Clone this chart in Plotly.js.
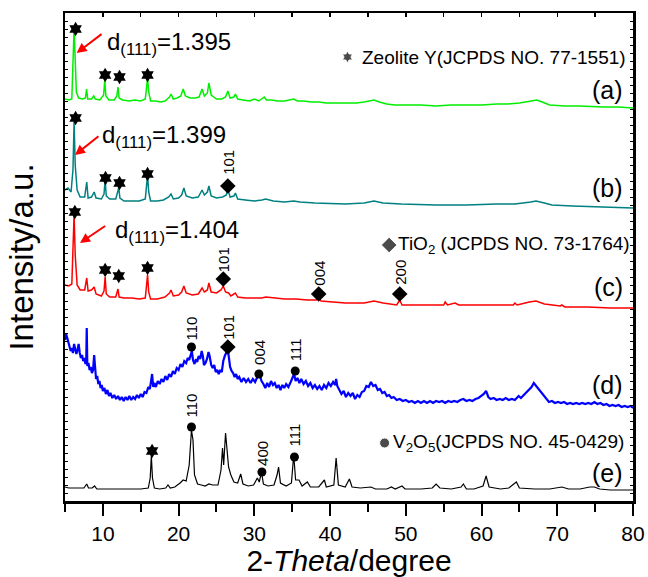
<!DOCTYPE html>
<html><head><meta charset="utf-8">
<script src="https://cdn.plot.ly/plotly-3.0.1.min.js"></script>
<style>html,body{margin:0;padding:0;background:#fff}#chart{width:648px;height:577px}</style>
</head><body><div id="chart"></div>
<script>
// (a) Zeolite Y – green
const aX=[5.0,5.5,5.9,6.1,6.2,6.3,6.5,6.8,7.3,7.7,7.85,8.0,8.5,8.8,9.0,9.6,10.1,10.25,10.4,10.8,11.5,11.85,12.0,12.15,12.6,13.5,14.2,15.0,15.6,15.8,15.9,16.05,16.3,17.0,17.6,18.2,18.8,19.0,19.3,19.8,20.3,20.6,20.9,21.5,22.2,22.7,23.1,23.4,23.8,24.0,24.3,25.0,25.7,26.2,26.5,26.8,27.3,27.5,27.8,28.5,29.4,30.0,30.6,31.3,31.6,32.3,33,34.0,34.8,35.2,35.7,36.5,37.5,38.5,39.5,40.5,41.5,42.5,43.5,44.5,45.3,45.8,46.5,47.5,48.5,50,52,54,56,58,60,62,63.5,65,66.5,67.3,68,69,71,73,76,78,80];
const aY=[402,401,402,441,473,451,409,403,402,403,412,402,402,405,402,401,406,421,405,401,401,405,414,403,401,400,401,400,402,416,423,409,400,400,399,400,404,407,402,403,405,412,405,403,403,404,412,405,408,418,406,402,402,404,410,403,404,407,402,401,400,402,400,404,401,401,400,400,401,402,400,400,399,399,398,398,398,398,398,399,400,401,399,397,396,396,396,395,396,396,396,397,397,398,400,401,399,396,395,395,394,394,393];
// (b) teal
const bX=[5.0,5.4,5.8,6.05,6.2,6.35,6.6,7.0,7.6,7.87,8.05,8.5,8.85,9.1,9.8,10.15,10.3,10.45,10.9,11.7,11.95,12.1,12.25,12.8,13.8,14.8,15.6,15.8,15.9,16.05,16.3,17.2,18.0,18.7,19.0,19.3,20.0,20.4,20.7,21.0,21.8,22.6,23.1,23.4,23.8,24.0,24.3,25.0,25.8,26.3,26.5,26.8,27.3,27.5,27.8,28.8,30.0,31.0,31.5,32.5,34,35.2,36,38,40.5,42,44.5,45.8,47,49.4,54,58,62,64.4,66.5,67.2,68.3,69.3,72,76,80];
const bY=[311,313,309,331,379,336,311,304,304,319,303,304,309,303,302,307,321,305,302,302,309,313,303,300,300,300,302,316,326,309,300,300,301,304,307,302,303,306,313,305,303,304,311,306,309,315,305,303,304,306,312,304,305,308,302,301,300,301,302,300,299,300,299,298,297,297,298,300,298,297,296,296,297,297,299,300,298,296,295,294,293];
// (c) red
const cX=[5.0,5.5,5.9,6.05,6.2,6.35,6.6,7.0,7.6,7.87,8.05,8.5,8.85,9.1,9.8,10.15,10.3,10.45,10.9,11.7,11.9,12.0,12.15,12.8,13.8,14.8,15.6,15.8,15.9,16.05,16.3,17.2,18.2,18.8,19.0,19.3,20.0,20.4,20.7,21.0,21.8,22.6,23.1,23.4,23.8,24.0,24.3,25.0,25.6,25.9,26.2,26.6,26.9,27.5,27.8,28.8,30.0,31.0,31.5,32.5,34,35.5,37,38.2,38.5,38.8,40,42,43.5,44.5,45.8,47,48.8,49.2,49.5,52,55.0,55.2,55.5,56.5,57,60,64.2,64.4,64.7,66.3,67.2,68.3,70.4,70.6,71,74,77,80];
const cY=[216,215,217,251,286,246,216,211,211,223,210,211,214,207,205,210,224,207,204,204,208,212,204,203,203,202,203,216,226,209,202,202,204,208,211,205,206,209,215,208,206,207,213,209,211,218,209,208,211,215,209,208,205,208,204,203,203,203,204,203,202,202,201,201,204,200,199,198,198,198,200,198,196,201,196,196,196,199,196,198,196,196,196,198,196,199,200,197,195,196,194,194,193,193];
// (d) blue
const dX=[5.0,5.15,5.3,5.45,5.6,5.75,5.9,6.05,6.2,6.35,6.5,6.65,6.8,6.95,7.1,7.25,7.4,7.55,7.7,7.8,7.87,7.95,8.1,8.25,8.4,8.55,8.7,8.85,8.95,9.1,9.25,9.4,9.55,9.7,9.85,10.0,10.2,10.4,10.6,10.8,11.0,11.25,11.5,11.75,12.0,12.25,12.5,12.75,13.0,13.25,13.5,13.75,14.0,14.25,14.5,14.75,15.0,15.25,15.5,15.75,16.0,16.2,16.35,16.5,16.65,16.8,17.0,17.25,17.5,17.75,18.0,18.25,18.5,18.75,19.0,19.25,19.5,19.75,20.0,20.25,20.5,20.75,21.0,21.2,21.4,21.6,21.75,21.9,22.1,22.3,22.45,22.65,22.85,23.05,23.2,23.35,23.55,23.75,23.95,24.1,24.3,24.5,24.7,24.9,25.1,25.3,25.5,25.7,25.9,26.1,26.3,26.5,26.65,26.8,27.0,27.2,27.4,27.6,27.8,28.0,28.3,28.6,28.9,29.2,29.5,29.8,30.1,30.4,30.7,30.95,31.2,31.45,31.7,31.95,32.2,32.45,32.7,32.95,33.2,33.45,33.7,33.95,34.2,34.5,34.8,35.05,35.25,35.45,35.7,35.95,36.2,36.5,36.8,37.1,37.4,37.7,38.0,38.3,38.6,38.9,39.2,39.5,39.8,40.1,40.4,40.65,40.8,40.95,41.2,41.5,41.8,42.1,42.4,42.7,43.0,43.3,43.6,43.9,44.2,44.5,44.8,45.1,45.4,45.7,46.0,46.3,46.6,46.9,47.2,47.5,47.8,48.1,48.4,48.8,49.2,49.6,50.0,50.4,50.8,51.2,51.6,52.0,52.4,52.8,53.2,53.6,54.0,54.4,54.8,55.2,55.6,56.0,56.4,56.8,57.2,57.6,58.0,58.4,58.8,59.2,59.6,60.0,60.3,60.6,60.9,61.2,61.6,62.0,62.4,62.8,63.2,63.6,64.0,64.4,64.9,65.2,65.6,66.0,66.3,66.6,66.9,67.1,67.4,67.7,68.0,68.3,68.6,68.9,69.3,69.7,70.1,70.5,70.9,71.3,71.7,72.1,72.5,72.9,73.3,73.7,74.1,74.5,74.9,75.3,75.7,76.1,76.5,76.9,77.3,77.7,78.1,78.5,78.9,79.3,79.7,80.0];
const dY=[161,167,163,158,155,150,153,148,157,152,147,151,157,148,143,146,140,143,137,140,173,135,138,131,134,128,131,146,139,122,125,117,120,113,116,110,113,107,111,105,108,103,106,102,105,101,104,100,104,101,105,101,104,102,106,103,107,104,109,108,114,112,119,127,114,118,114,120,117,122,119,125,121,127,124,130,127,133,131,137,134,140,138,143,141,148,150,141,137,142,139,145,142,150,145,136,138,142,149,145,136,133,136,129,131,127,131,129,140,145,148,152,143,134,130,128,124,127,122,124,119,123,119,122,118,122,119,124,126,120,117,113,118,114,120,116,118,113,116,111,116,113,117,114,119,124,127,120,123,118,122,117,120,115,118,113,116,112,115,111,116,113,118,115,119,116,122,115,111,107,110,104,108,105,108,102,106,104,109,110,115,114,119,115,116,111,112,108,109,105,106,103,104,101,102,100,101,99,100,98,100,98,100,98,100,98,100,99,100,98,100,99,100,99,101,102,100,101,100,102,103,105,107,110,104,102,103,101,102,101,103,101,102,101,105,103,106,109,112,114,118,116,114,111,108,104,102,99,100,98,99,98,99,97,98,97,98,97,98,97,98,97,99,97,98,96,97,95,96,95,96,94,95,94,95,93];
// (e) V2O5 – black
const eX=[5.0,5.5,6.5,7.5,7.87,8.1,8.6,8.9,9.2,10,11,12,13,14,15,16.0,16.25,16.4,16.55,16.8,17.5,18.3,18.6,18.9,19.5,20.2,20.6,21.0,21.4,21.7,21.9,22.1,22.5,23.0,23.5,24.0,24.5,25.2,25.6,25.8,25.95,26.2,26.4,26.6,26.9,27.3,27.8,28.2,28.5,29.2,29.9,30.4,30.65,30.95,31.2,31.8,32.6,33.0,33.2,33.45,34.2,34.9,35.2,35.45,35.9,36.3,37.0,37.4,38.5,39.25,39.5,40.5,40.8,41.1,42.0,42.55,42.9,44,45.4,46,47.5,48.1,48.6,49.5,49.9,52,53.5,54.0,54.5,56,57.3,57.6,58,59,60.2,60.6,61.0,62.5,63.6,64.6,65.0,67,69,70.6,71.5,73,74.3,74.9,75.6,77,80];
const eY=[14,13,13,13,17,13,13,15,12,12,12,12,12,12,12,13,23,45,23,13,12,13,16,13,14,18,21,20,36,71,61,26,17,16,15,17,16,16,31,53,36,68,46,34,26,19,18,27,17,15,16,23,19,29,17,15,16,26,34,18,15,18,46,21,21,15,19,14,14,21,14,16,43,16,14,22,14,13,14,12,12,14,12,15,12,12,13,17,13,12,14,17,12,12,15,25,14,12,13,19,13,12,12,14,12,12,14,14,12,11,11];

// phase markers
const starX=[6.4,10.3,12.2,15.9,6.4,10.35,12.2,15.9,6.3,10.3,12.1,15.9,16.5];
const starY=[472,426,424,426,383,323,318,327,289,231,225,233,50];
const diamondX=[26.5,25.9,38.5,49.2,26.5];
const diamondY=[315,222,207,207,154];
const circleX=[21.7,30.6,35.4,21.7,31.0,35.3];
const circleY=[154,127,130,74,29,44];
const hklText=['101','101','004','200','110','101','004','111','110','400','111'];
const hklX=[26.5,25.9,38.5,49.2,21.7,26.5,30.6,35.4,21.7,31.0,35.3];
const hklY=[339,241,228,229,173,174,149,151,96,48,66];
// legend keys
const keyText=['Zeolite Y(JCPDS NO. 77-1551)','TiO<sub>2</sub> (JCPDS NO. 73-1764)','V<sub>2</sub>O<sub>5</sub>(JCPDS NO. 45-0429)'];
const keySym=['hexagram','diamond','circle'];
const keyX=[42.3,47.8,47.2];
const keyY=[444,256,58];
const keyGap=[1.6,0.9,0.9];
// sample labels
const sampleText=['(a)','(b)','(c)','(d)','(e)'];
const sampleY=[411,313,214,116,28];
// d-spacing
const dText=['1.395','1.399','1.404'];
const dTextX=[10.28,9.62,11.34];
const dTextY=[458,365,270];
const arrowHead=[[6.54,448],[6.32,346],[6.98,258]];
const arrowTail=[[10.02,468],[9.62,366],[10.5,276]];

const FONT='"Liberation Sans", Arial, sans-serif';
function line(x,y,color,w){return {x:x,y:y,type:'scatter',mode:'lines',line:{color:color,width:w},hoverinfo:'skip',showlegend:false};}
const traces=[
 line(aX,aY,'#00ee00',1.5),
 line(bX,bY,'#008080',1.5),
 line(cX,cY,'#ff0000',1.5),
 line(dX,dY,'#0000ff',2.2),
 line(eX,eY,'#000000',1.2),
 {x:starX,y:starY,type:'scatter',mode:'markers',marker:{symbol:'hexagram',size:11,color:'#000'},showlegend:false},
 {x:diamondX,y:diamondY,type:'scatter',mode:'markers',marker:{symbol:'diamond',size:12,color:'#000'},showlegend:false},
 {x:circleX,y:circleY,type:'scatter',mode:'markers',marker:{symbol:'circle',size:9,color:'#000'},showlegend:false},
 {x:keyX,y:keyY,type:'scatter',mode:'markers',marker:{symbol:keySym,size:[9,12,10],color:'#000'},showlegend:false},
 {x:[5,80],y:[0,0],xaxis:'x2',type:'scatter',mode:'markers',marker:{opacity:0},showlegend:false,hoverinfo:'skip'}
];
const ann=[];
hklText.forEach((t,i)=>ann.push({x:hklX[i],y:hklY[i],xref:'x',yref:'y',text:t,showarrow:false,textangle:-90,font:{family:FONT,size:15,color:'#000'},xanchor:'center',yanchor:'middle'}));
keyText.forEach((t,i)=>ann.push({x:keyX[i]+keyGap[i],y:keyY[i],xref:'x',yref:'y',text:t,showarrow:false,font:{family:FONT,size:19,color:'#000'},xanchor:'left',yanchor:'middle'}));
sampleText.forEach((t,i)=>ann.push({x:78.9,y:sampleY[i],xref:'x',yref:'y',text:t,showarrow:false,font:{family:FONT,size:25,color:'#000'},xanchor:'right',yanchor:'middle'}));
dText.forEach((t,i)=>ann.push({x:dTextX[i],y:dTextY[i],xref:'x',yref:'y',text:'d<sub>(111)</sub>='+t,showarrow:false,font:{family:FONT,size:24,color:'#000'},xanchor:'left',yanchor:'middle'}));
arrowHead.forEach((h,i)=>ann.push({x:h[0],y:h[1],ax:arrowTail[i][0],ay:arrowTail[i][1],xref:'x',yref:'y',axref:'x',ayref:'y',text:'',showarrow:true,arrowhead:2,arrowsize:1,arrowwidth:2,arrowcolor:'#ff0000'}));

const layout={
 width:648,height:577,margin:{l:65,r:15,t:13,b:76},
 paper_bgcolor:'#fff',plot_bgcolor:'#fff',showlegend:false,
 font:{family:FONT,color:'#000'},
 xaxis:{range:[5,80],dtick:10,tick0:0,ticks:'outside',ticklen:12,tickwidth:2,tickcolor:'#000',
   minor:{dtick:5,tick0:0,ticks:'outside',ticklen:8,tickwidth:2,tickcolor:'#000'},
   showline:true,linewidth:2.5,linecolor:'#000',mirror:true,showgrid:false,zeroline:false,
   tickfont:{family:FONT,size:21,color:'#000'},
   title:{text:'2-<i>Theta</i>/degree',font:{family:FONT,size:30,color:'#000'},standoff:5}},
 xaxis2:{overlaying:'x',side:'top',matches:'x',range:[5,80],dtick:5,tick0:0,ticks:'inside',ticklen:4,tickwidth:1.5,tickcolor:'#000',showticklabels:false,showgrid:false,zeroline:false,showline:false},
 yaxis:{range:[0,488],showticklabels:false,ticks:'inside',dtick:8,ticklen:3,tickwidth:1,tickcolor:'#000',
   showline:true,linewidth:2.5,linecolor:'#000',mirror:'ticks',showgrid:false,zeroline:false,
   title:{text:'Intensity/a.u.',font:{family:FONT,size:33,color:'#000'},standoff:19}},
 annotations:ann
};
Plotly.newPlot('chart',traces,layout,{staticPlot:true});
</script></body></html>
